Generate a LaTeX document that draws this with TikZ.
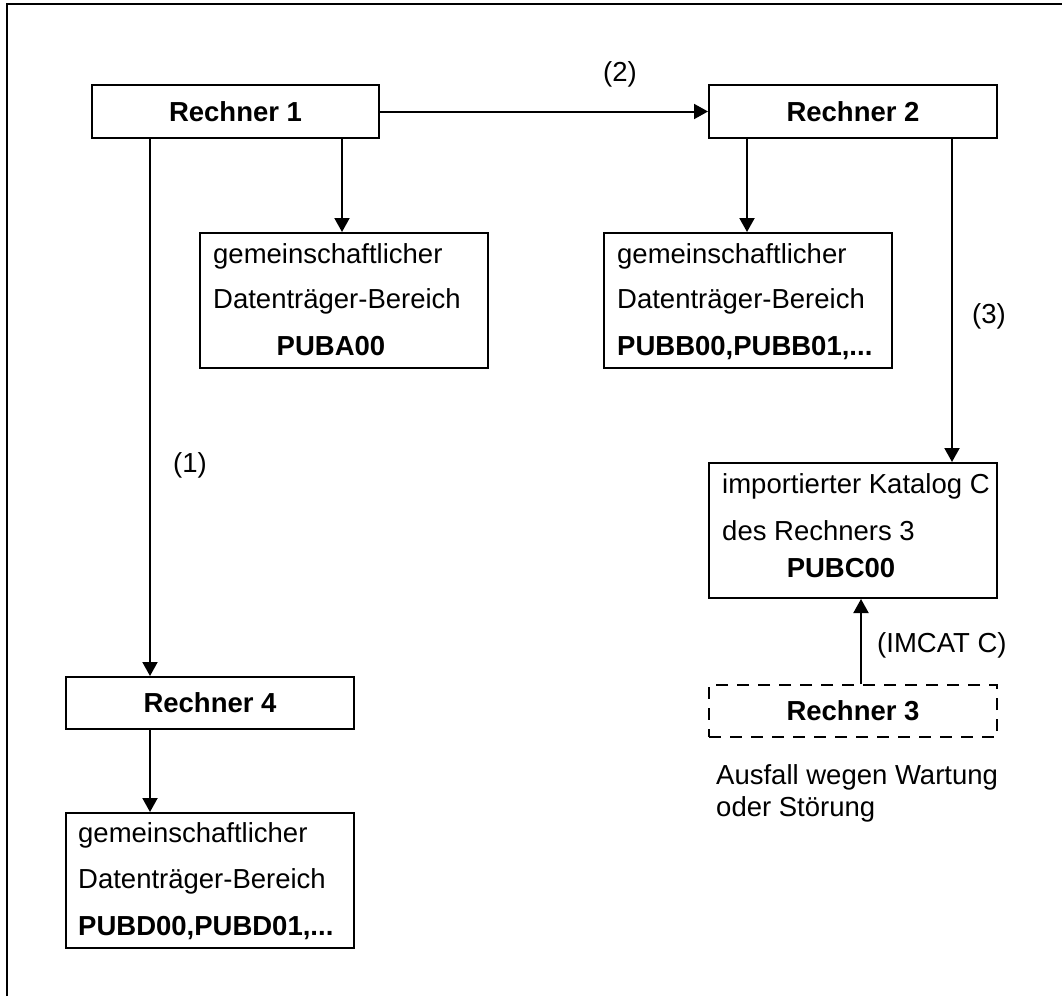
\documentclass[tikz,border=0pt]{standalone}
\usepackage{fontspec}
\setmainfont{Liberation Sans}
\usetikzlibrary{arrows.meta}
\begin{document}
\begin{tikzpicture}[x=1pt,y=-1pt,
  box/.style={draw, line width=2pt, rectangle, inner sep=0pt, font=\fontsize{27.5}{33}\selectfont\bfseries},
  dbox/.style={box, dash pattern=on 12pt off 9pt},
  arr/.style={line width=2pt, -{Triangle[width=15pt,length=14pt]}},
  txt/.style={inner sep=0pt, font=\fontsize{27.5}{33}\selectfont},
  btxt/.style={txt, font=\fontsize{27.5}{33}\selectfont\bfseries}]
\useasboundingbox (0,0) rectangle (1062,996);
\fill[white] (0,0) rectangle (1062,996);
% frame
\draw[line width=1.5pt] (7,996) -- (7,4) -- (1062,4);
% boxes
\node[box, minimum width=287pt, minimum height=53pt] (r1) at (235.5,111.5) {Rechner 1};
\node[box, minimum width=288pt, minimum height=53pt] (r2) at (853,111.5) {Rechner 2};
\node[box, minimum width=288pt, minimum height=135pt] (puba) at (344,300.5) {};
\node[box, minimum width=288pt, minimum height=135pt] (pubb) at (748,300.5) {};
\node[box, minimum width=288pt, minimum height=135pt] (pubc) at (853,530.5) {};
\node[box, minimum width=288pt, minimum height=52pt] (r4) at (210,703) {Rechner 4};
\node[box, minimum width=288pt, minimum height=135pt] (pubd) at (210,880.5) {};
\node[dbox, minimum width=288pt, minimum height=52pt] (r3) at (853,711) {Rechner 3};
% box texts
\node[txt, anchor=base west] (pa1) at (213,263) {gemeinschaftlicher};
\node[txt, anchor=base west] (pa2) at (213,308) {Datenträger-Bereich};
\node[btxt, anchor=base] (pa3) at (331,355) {PUBA00};
\node[txt, anchor=base west] (pb1) at (617,263) {gemeinschaftlicher};
\node[txt, anchor=base west] (pb2) at (617,308) {Datenträger-Bereich};
\node[btxt, anchor=base west] (pb3) at (617,355) {PUBB00,PUBB01,...};
\node[txt, anchor=base west] (pc1) at (722,493) {importierter Katalog C};
\node[txt, anchor=base west] (pc2) at (722,540) {des Rechners 3};
\node[btxt, anchor=base] (pc3) at (841,577) {PUBC00};
\node[txt, anchor=base west] (pd1) at (78,842) {gemeinschaftlicher};
\node[txt, anchor=base west] (pd2) at (78,888) {Datenträger-Bereich};
\node[btxt, anchor=base west] (pd3) at (78,935) {PUBD00,PUBD01,...};
% labels
\node[txt] (lab2) at (620,74) {(2)};
\node[txt] (lab3) at (989,316) {(3)};
\node[txt] (lab1) at (190,465) {(1)};
\node[txt, anchor=west] (labim) at (877,645) {(IMCAT C)};
\node[txt, anchor=base west] (aus1) at (716,784) {Ausfall wegen Wartung};
\node[txt, anchor=base west] (aus2) at (716,816) {oder Störung};
% connector columns
\coordinate (c1) at (150,0);
\coordinate (c2) at (342,0);
\coordinate (c4) at (747,0);
\coordinate (c5) at (952,0);
\coordinate (c3) at (861,0);
% connectors
\draw[arr] (r1.east) -- (r2.west);
\draw[arr] (c1 |- r1.south) -- (c1 |- r4.north);
\draw[arr] (c2 |- r1.south) -- (c2 |- puba.north);
\draw[arr] (c4 |- r2.south) -- (c4 |- pubb.north);
\draw[arr] (c5 |- r2.south) -- (c5 |- pubc.north);
\draw[arr] (c1 |- r4.south) -- (c1 |- pubd.north);
\draw[arr] (c3 |- r3.north) -- (c3 |- pubc.south);
\end{tikzpicture}
\end{document}
